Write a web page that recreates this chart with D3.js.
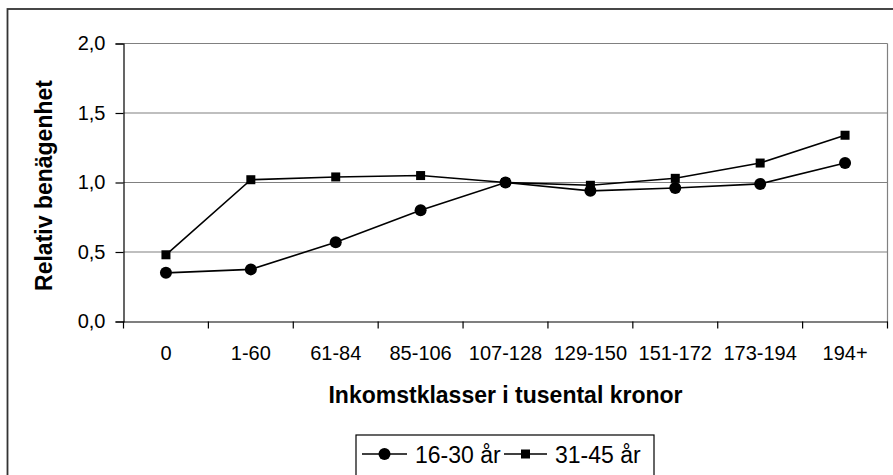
<!DOCTYPE html>
<html>
<head>
<meta charset="utf-8">
<script src="https://cdn.jsdelivr.net/npm/d3@7/dist/d3.min.js"></script>
<style>
html,body{margin:0;padding:0;background:#fff;}
svg{display:block;font-family:"Liberation Sans",Arial,sans-serif;}
</style>
</head>
<body>
<svg id="chart" width="893" height="475"></svg>
<script>
const categories = ["0","1-60","61-84","85-106","107-128","129-150","151-172","173-194","194+"];
const series1Name = "16-30 år";
const series1 = [0.35, 0.375, 0.57, 0.80, 1.00, 0.94, 0.96, 0.99, 1.14];
const series2Name = "31-45 år";
const series2 = [0.48, 1.02, 1.04, 1.05, 1.00, 0.98, 1.03, 1.14, 1.34];
const yTicks = [0, 0.5, 1.0, 1.5, 2.0];
const xTitle = "Inkomstklasser i tusental kronor";
const yTitle = "Relativ benägenhet";

const svg = d3.select("#chart");
const W = 893, H = 475;
const m = {left: 123.5, top: 43.5, right: 887.5, bottom: 321.5};

// outer frame
svg.append("rect").attr("x", 7.5).attr("y", 9).attr("width", 900).attr("height", 500)
  .attr("fill", "#fff").attr("stroke", "#333").attr("stroke-width", 1.8);

const x = d3.scaleBand().domain(categories).range([m.left, m.right]);
const y = d3.scaleLinear().domain([0, 2]).range([m.bottom, m.top]);

// gridlines
svg.append("g").selectAll("line").data(yTicks.filter(d => d > 0)).join("line")
  .attr("x1", m.left).attr("x2", m.right)
  .attr("y1", d => y(d)).attr("y2", d => y(d))
  .attr("stroke", "#808080").attr("stroke-width", 1.2);
// right border of plot area
svg.append("line").attr("x1", m.right).attr("x2", m.right).attr("y1", m.top).attr("y2", m.bottom)
  .attr("stroke", "#808080").attr("stroke-width", 1.2);

// y axis
const yAxis = d3.axisLeft(y).tickValues(yTicks).tickSize(8).tickPadding(10)
  .tickFormat(d => d3.format(".1f")(d).replace(".", ","));
const gy = svg.append("g").attr("transform", `translate(${m.left},0)`).call(yAxis);
gy.select(".domain").attr("stroke", "#000").attr("stroke-width", 1.2);
gy.selectAll(".tick line").attr("stroke", "#000").attr("stroke-width", 1.2);
gy.selectAll(".tick text").attr("font-size", 20).attr("fill", "#000")
  .attr("font-family", "Liberation Sans, Arial, sans-serif");

// x axis
const xAxis = d3.axisBottom(x).tickSize(0).tickPadding(24);
const gx = svg.append("g").attr("transform", `translate(0,${m.bottom})`).call(xAxis);
gx.select(".domain").attr("stroke", "#000").attr("stroke-width", 1.2);
gx.selectAll(".tick text").attr("font-size", 20).attr("fill", "#000")
  .attr("font-family", "Liberation Sans, Arial, sans-serif");
// category boundary ticks
const bounds = categories.map(c => x(c)).concat([m.right]);
svg.append("g").selectAll("line").data(bounds).join("line")
  .attr("x1", d => d).attr("x2", d => d).attr("y1", m.bottom).attr("y2", m.bottom + 7)
  .attr("stroke", "#000").attr("stroke-width", 1.2);

// lines
const cx = c => x(c) + x.bandwidth() / 2;
const line = d3.line().x((d, i) => cx(categories[i])).y(d => y(d));
svg.append("path").datum(series1).attr("d", line).attr("fill", "none").attr("stroke", "#000").attr("stroke-width", 1.6);
svg.append("path").datum(series2).attr("d", line).attr("fill", "none").attr("stroke", "#000").attr("stroke-width", 1.6);

svg.append("g").selectAll("rect").data(series2).join("rect")
  .attr("x", (d, i) => cx(categories[i]) - 4.5).attr("y", d => y(d) - 4.5)
  .attr("width", 9).attr("height", 9).attr("fill", "#000");
svg.append("g").selectAll("circle").data(series1).join("circle")
  .attr("cx", (d, i) => cx(categories[i])).attr("cy", d => y(d)).attr("r", 6).attr("fill", "#000");

// axis titles
svg.append("text").attr("x", (m.left + m.right) / 2).attr("y", 403)
  .attr("text-anchor", "middle").attr("font-weight", "bold").attr("font-size", 23).text(xTitle);
svg.append("text").attr("transform", `translate(51.5,${(m.top + m.bottom) / 2 + 3}) rotate(-90)`)
  .attr("text-anchor", "middle").attr("font-weight", "bold").attr("font-size", 23).text(yTitle);

// legend
const lg = svg.append("g");
lg.append("rect").attr("x", 356).attr("y", 435).attr("width", 298).attr("height", 60)
  .attr("fill", "#fff").attr("stroke", "#000").attr("stroke-width", 1.2);
const ly = 454;
lg.append("line").attr("x1", 362).attr("x2", 407).attr("y1", ly).attr("y2", ly).attr("stroke", "#000").attr("stroke-width", 1.6);
lg.append("circle").attr("cx", 384.5).attr("cy", ly).attr("r", 6).attr("fill", "#000");
lg.append("text").attr("x", 415).attr("y", ly + 9).attr("font-size", 23).text(series1Name);
lg.append("line").attr("x1", 504).attr("x2", 547).attr("y1", ly).attr("y2", ly).attr("stroke", "#000").attr("stroke-width", 1.6);
lg.append("rect").attr("x", 525.5 - 4.5).attr("y", ly - 4.5).attr("width", 9).attr("height", 9).attr("fill", "#000");
lg.append("text").attr("x", 555).attr("y", ly + 9).attr("font-size", 23).text(series2Name);
</script>
</body>
</html>
